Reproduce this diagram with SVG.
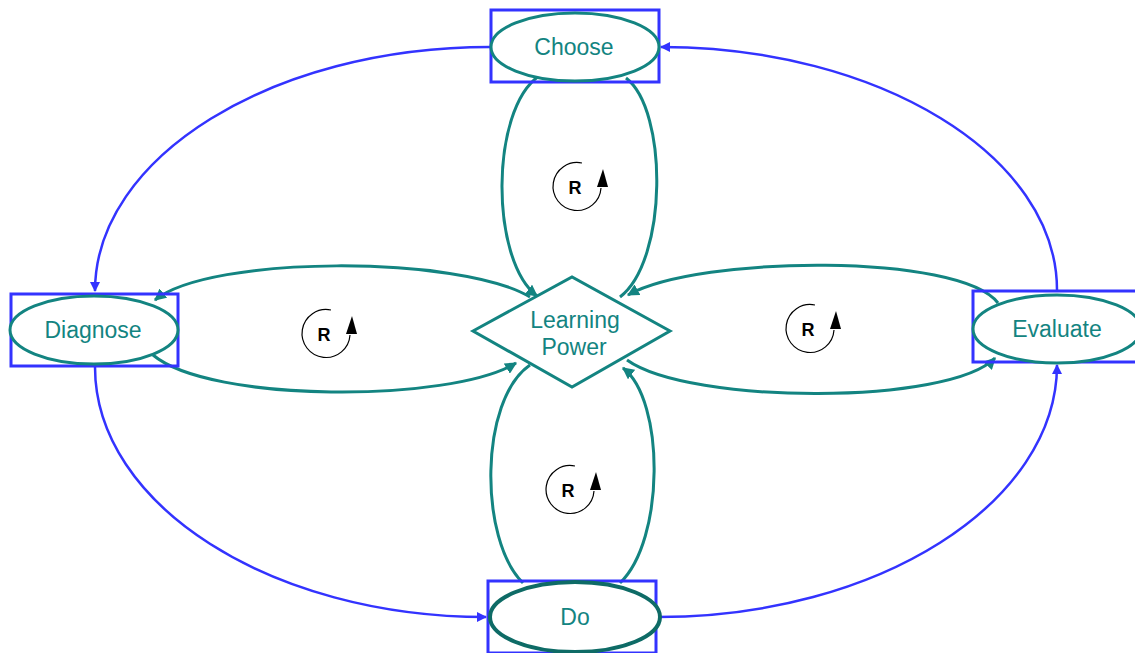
<svg xmlns="http://www.w3.org/2000/svg" width="1135" height="653" viewBox="0 0 1135 653">
  <style>
    .box { fill: none; stroke: #3333ff; stroke-width: 3; }
    .oval { fill: #ffffff; stroke: #138481; stroke-width: 3; }
    .oval-strong { fill: #ffffff; stroke: #0e6b66; stroke-width: 4; }
    .label { font-family: "Liberation Sans", Arial, sans-serif; font-size: 23px; fill: #138481; text-anchor: middle; }
    .flow { fill: none; stroke: #3333ff; stroke-width: 2.5; }
    .loop { fill: none; stroke: #138481; stroke-width: 3; }
    .rmark { fill: none; stroke: #000000; stroke-width: 1.2; }
    .rtext { font-family: "Liberation Sans", Arial, sans-serif; font-size: 18px; font-weight: bold; fill: #000000; text-anchor: middle; }
  </style>
  <defs>
    <marker id="ah-blue" viewBox="0 0 10 10" refX="9" refY="5" markerWidth="4" markerHeight="4" orient="auto" markerUnits="strokeWidth">
      <path d="M0,0 L10,5 L0,10 z" fill="#3333ff"/>
    </marker>
    <marker id="ah-teal" viewBox="0 0 10 10" refX="9" refY="5" markerWidth="4" markerHeight="4" orient="auto" markerUnits="strokeWidth">
      <path d="M0,0 L10,5 L0,10 z" fill="#138481"/>
    </marker>
    <!-- reinforcing-loop marker: circular arrow with "R" -->
    <g id="loop-r">
      <path class="rmark" d="M5,-24 A24,24 0 1 0 24,1"/>
      <path d="M26,-18 L20,0 L31,0 z" fill="#000000"/>
      <text class="rtext" x="-2" y="7">R</text>
    </g>
  </defs>

  <rect width="1135" height="653" fill="#ffffff"/>

  <!-- connectors -->
  <g id="connectors">
    <!-- outer cycle -->
    <path class="flow" d="M490,47 C272,47 95,157 95,291" marker-end="url(#ah-blue)"/>
    <path class="flow" d="M95,367 C95,505 271,617 486,617" marker-end="url(#ah-blue)"/>
    <path class="flow" d="M658,617 C878,617 1057,503 1057,365" marker-end="url(#ah-blue)"/>
    <path class="flow" d="M1057,290 C1057,156 879,47 661,47" marker-end="url(#ah-blue)"/>
    <!-- reinforcing loops through Learning Power -->
    <path class="loop" d="M539,76 C490,110 490,260 537,296" marker-end="url(#ah-teal)"/>
    <path class="loop" d="M620,297 C668,260 668,110 626,78"/>
    <path class="loop" d="M530,365 C479,400 479,540 523,583"/>
    <path class="loop" d="M620,583 C665,540 665,400 623,368" marker-end="url(#ah-teal)"/>
    <path class="loop" d="M530,297 C460,255 210,255 155,300" marker-end="url(#ah-teal)"/>
    <path class="loop" d="M153,355 C210,403 450,403 516,363" marker-end="url(#ah-teal)"/>
    <path class="loop" d="M998,303 C960,253 700,255 628,295" marker-end="url(#ah-teal)"/>
    <path class="loop" d="M627,360 C690,405 950,405 995,358" marker-end="url(#ah-teal)"/>
  </g>

  <!-- loop polarity markers -->
  <g id="loop-markers">
    <use href="#loop-r" transform="translate(577,187)"/>
    <use href="#loop-r" transform="translate(326,334)"/>
    <use href="#loop-r" transform="translate(810,329)"/>
    <use href="#loop-r" transform="translate(570,490)"/>
  </g>

  <g id="node-choose">
    <rect class="box" x="491" y="10" width="168" height="72"/>
    <ellipse class="oval" cx="575" cy="47" rx="84" ry="34"/>
    <text class="label" x="574" y="55">Choose</text>
  </g>

  <g id="node-diagnose">
    <rect class="box" x="11" y="294" width="167" height="72"/>
    <ellipse class="oval" cx="94" cy="330" rx="84" ry="34"/>
    <text class="label" x="93" y="338">Diagnose</text>
  </g>

  <g id="node-evaluate">
    <rect class="box" x="973" y="291" width="168" height="71"/>
    <ellipse class="oval" cx="1057" cy="329" rx="84" ry="34"/>
    <text class="label" x="1057" y="337">Evaluate</text>
  </g>

  <g id="node-do">
    <rect class="box" x="488" y="581" width="168" height="72"/>
    <ellipse class="oval-strong" cx="575" cy="617" rx="85" ry="35"/>
    <text class="label" x="575" y="625">Do</text>
  </g>

  <g id="node-learning-power">
    <polygon class="oval" points="473,331 572,277 670,331 572,387"/>
    <text class="label" x="575" y="328">Learning</text>
    <text class="label" x="574" y="355">Power</text>
  </g>
</svg>
